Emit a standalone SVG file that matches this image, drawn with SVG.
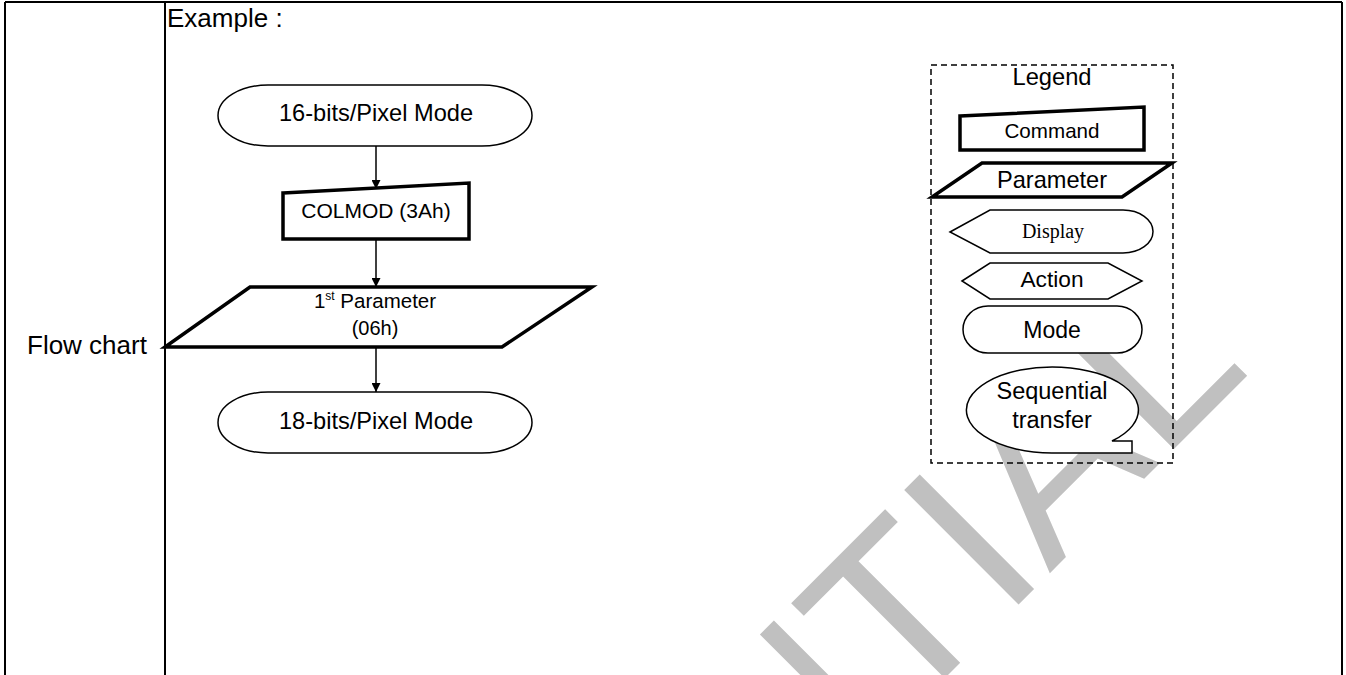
<svg xmlns="http://www.w3.org/2000/svg" width="1346" height="675" viewBox="0 0 1346 675">
<defs>
<style>
.t{font-family:"Liberation Sans",Arial,sans-serif;fill:#000;text-anchor:middle}
.thin{fill:#fff;stroke:#000;stroke-width:1.5}
.thick{fill:#fff;stroke:#000;stroke-width:3.5;stroke-linejoin:miter}
.conn{stroke:#000;stroke-width:1.5;fill:none}
.grid{stroke:#000;stroke-width:2;fill:none}
</style>
<marker id="arr" viewBox="0 0 10 10" refX="10" refY="5" markerWidth="10" markerHeight="9" markerUnits="userSpaceOnUse" orient="auto">
<path d="M0,0 L10,5 L0,10 z" fill="#000"/>
</marker>
</defs>
<rect width="1346" height="675" fill="#fff"/>
<g id="watermark">
<text transform="translate(34,1589) rotate(-45)" font-family="Liberation Sans, Arial, sans-serif" font-size="235" fill="#c0c0c0">CONFIDENTIAL</text>
</g>
<g id="table">
<path class="grid" d="M5,2 H1342 M5,2 V675 M165,2 V675 M1342,2 V675"/>
<text class="t" x="167" y="27" font-size="26" style="text-anchor:start">Example :</text>
<text class="t" x="27" y="354" font-size="26" style="text-anchor:start">Flow chart</text>
</g>
<g id="node-16bit">
<rect class="thin" x="218" y="85" width="314" height="61" rx="50" ry="30.5"/>
<text class="t" x="376" y="121" font-size="23.6">16-bits/Pixel Mode</text>
</g>
<g id="node-colmod">
<path class="thick" d="M283,193 L469,183 L469,239 L283,239 Z"/>
<text class="t" x="376" y="218" font-size="21">COLMOD (3Ah)</text>
</g>
<g id="node-param">
<path class="thick" d="M250,287 L592,287 L502,347 L165,347 Z"/>
<text class="t" x="375" y="308" font-size="20.5">1<tspan font-size="12" dy="-8">st</tspan><tspan dy="8"> Parameter</tspan></text>
<text class="t" x="375" y="335" font-size="20">(06h)</text>
</g>
<g id="node-18bit">
<rect class="thin" x="218" y="392" width="314" height="61" rx="50" ry="30.5"/>
<text class="t" x="376" y="429" font-size="23.6">18-bits/Pixel Mode</text>
</g>
<g id="connectors">
<line class="conn" x1="376" y1="146" x2="376" y2="189" marker-end="url(#arr)"/>
<line class="conn" x1="376" y1="239" x2="376" y2="287" marker-end="url(#arr)"/>
<line class="conn" x1="376" y1="347" x2="376" y2="392" marker-end="url(#arr)"/>
</g>
<g id="legend">
<rect x="931" y="65" width="242" height="398" fill="none" stroke="#000" stroke-width="1.5" stroke-dasharray="6,4"/>
<text class="t" x="1052" y="85" font-size="23.7">Legend</text>
<g id="legend-command">
<path class="thick" d="M960,116 L1144,107 L1144,150 L960,150 Z"/>
<text class="t" x="1052" y="138" font-size="20.6">Command</text>
</g>
<g id="legend-parameter">
<path class="thick" d="M982,163 L1172,163 L1122,197 L932,197 Z"/>
<text class="t" x="1052" y="188" font-size="23.6">Parameter</text>
</g>
<g id="legend-display">
<path class="thin" d="M950,232 L990,210 L1123,210 A30,21.5 0 0 1 1123,253 L990,253 Z"/>
<text x="1053" y="238" font-family="Liberation Serif, Times New Roman, serif" font-size="20" text-anchor="middle">Display</text>
</g>
<g id="legend-action">
<path class="thin" d="M962,281 L990,263 L1108,263 L1142,281 L1108,299 L990,299 Z"/>
<text class="t" x="1052" y="287" font-size="22.7">Action</text>
</g>
<g id="legend-mode">
<rect class="thin" x="963" y="306" width="179" height="47" rx="25" ry="23.5"/>
<text class="t" x="1052" y="338" font-size="23">Mode</text>
</g>
<g id="legend-seq">
<path class="thin" d="M1112,441 L1132,441 L1132,453 L1052,453 A86,43 0 1 1 1112,441 Z"/>
<text class="t" x="1052" y="399" font-size="23.5">Sequential</text>
<text class="t" x="1052" y="428" font-size="23.5">transfer</text>
</g>
</g>
</svg>
